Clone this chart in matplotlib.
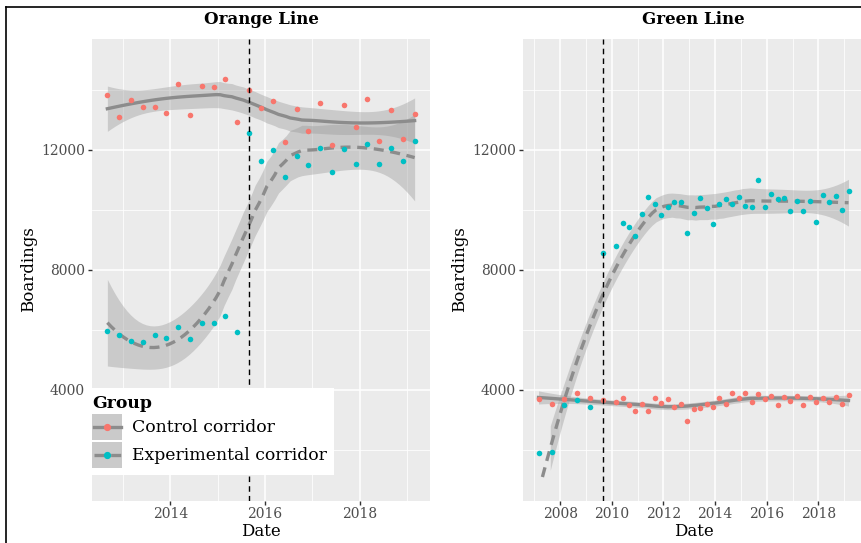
import numpy as np
import pandas as pd
import matplotlib
matplotlib.use("Agg")
import matplotlib.pyplot as plt
from matplotlib.legend_handler import HandlerBase
from matplotlib.patches import Rectangle
from matplotlib.lines import Line2D

plt.rcParams['font.family'] = ['DejaVu Serif']

# Orange Line, quarterly boardings
orange_dates = pd.date_range('2012-09-01', '2019-03-01', freq='QS-MAR')
orange_control = [13820, 13090, 13660, 13420, 13420, 13210, 14190, 13140, 14130,
                  14070, 14350, 12930, 13980, 13370, 13620, 12240, 13340, 12620,
                  13560, 12160, 13490, 12750, 13670, 12270, 13320, 12350, 13180]
orange_experimental = [5940, 5830, 5620, 5580, 5820, 5710, 6080, 5690, 6210,
                       6220, 6460, 5920, 12550, 11610, 11980, 11090, 11790, 11470,
                       12060, 11250, 12030, 11530, 12170, 11510, 12050, 11610, 12270]
orange_start = '2015-09-01'

# Green Line, semiannual then quarterly boardings
green_dates = pd.to_datetime(['2007-03-01', '2007-09-01', '2008-03-01', '2008-09-01',
                              '2009-03-01', '2009-09-01']).append(
    pd.date_range('2010-03-01', '2019-03-01', freq='QS-MAR'))
green_control = [3680, 3520, 3670, 3890, 3730, 3660, 3570, 3720, 3470, 3280, 3530,
                 3280, 3710, 3560, 3670, 3420, 3510, 2960, 3360, 3390, 3530, 3420,
                 3710, 3510, 3880, 3710, 3870, 3570, 3840, 3690, 3780, 3480, 3760,
                 3630, 3780, 3470, 3740, 3590, 3730, 3590, 3760, 3530, 3810]
green_experimental = [1870, 1930, 3470, 3650, 3410, 8560, 8770, 9550, 9410, 9130,
                      9840, 10420, 10190, 9810, 10080, 10240, 10260, 9220, 9880,
                      10370, 10060, 9530, 10190, 10350, 10190, 10430, 10130, 10080,
                      10970, 10080, 10530, 10350, 10380, 9950, 10280, 9950, 10280,
                      9570, 10480, 10260, 10460, 9970, 10610]
green_start = '2009-09-01'

groups = ['Control corridor', 'Experimental corridor']
point_colors = ['#F8766D', '#00BFC4']
line_styles = ['-', (0, (3, 2))]
y_limits = (1000, 15000)

SMOOTH = '#8c8c8c'
RIBBON = '#999999'
PANEL = '#EBEBEB'


def dec_year(d):
    d = pd.to_datetime(d)
    days = np.where(d.is_leap_year, 366.0, 365.0)
    return np.asarray(d.year + (d.dayofyear - 1) / days, dtype=float)


def t975(df):
    # Cornish-Fisher expansion of the Student t 97.5% quantile
    z = 1.959964
    g1 = (z**3 + z) / 4
    g2 = (5 * z**5 + 16 * z**3 + 3 * z) / 96
    g3 = (3 * z**7 + 19 * z**5 + 17 * z**3 - 15 * z) / 384
    return z + g1 / df + g2 / df**2 + g3 / df**3


def loess(x, y, xs, span=0.75):
    x = np.asarray(x, float)
    y = np.asarray(y, float)
    n = len(x)
    q = int(np.floor(n * span))

    def row(x0):
        d = np.abs(x - x0)
        h = np.sort(d)[q - 1]
        w = (1 - np.clip(d / h, 0, 1) ** 3) ** 3
        X = np.column_stack([np.ones(n), x - x0, (x - x0) ** 2])
        A = X.T @ (w[:, None] * X)
        return np.linalg.solve(A, (X * w[:, None]).T)[0]

    L = np.array([row(v) for v in x])
    M = np.eye(n) - L
    MM = M.T @ M
    d1, d2 = np.trace(MM), np.trace(MM @ MM)
    resid = y - L @ y
    sigma = np.sqrt(resid @ resid / d1)
    Ls = np.array([row(v) for v in xs])
    fit = Ls @ y
    se = sigma * np.sqrt((Ls ** 2).sum(axis=1))
    t = t975(d1 ** 2 / d2)
    return fit, fit - t * se, fit + t * se


def censor(v):
    # values outside the y limits are dropped, as the scale limits do
    v = np.array(v, float)
    v[(v < y_limits[0]) | (v > y_limits[1])] = np.nan
    return v


class KeyHandler(HandlerBase):
    def __init__(self, color, ls):
        super().__init__()
        self.color = color
        self.ls = ls

    def create_artists(self, legend, orig_handle, xdescent, ydescent,
                       width, height, fontsize, trans):
        x0, y0 = -xdescent, -ydescent
        bg = Rectangle((x0, y0), width, height, facecolor=PANEL, edgecolor='none',
                       transform=trans)
        rib = Rectangle((x0, y0), width, height, facecolor=RIBBON, alpha=0.4,
                        edgecolor='none', transform=trans)
        ym = y0 + height / 2
        ln = Line2D([x0 + 1, x0 + width - 1], [ym, ym], color=SMOOTH, lw=2.4,
                    linestyle=self.ls, transform=trans)
        pt = Line2D([x0 + width / 2], [ym], marker='o', markersize=4.2,
                    color=self.color, linestyle='none', transform=trans)
        return [bg, rib, ln, pt]


W, H = 862, 543
fig = plt.figure(figsize=(W / 100, H / 100), dpi=100)
fig.patch.set_facecolor('white')

top, bottom = 38.5, 500.5
ax1 = fig.add_axes([92 / W, 1 - bottom / H, (430 - 92) / W, (bottom - top) / H])
ax2 = fig.add_axes([523 / W, 1 - bottom / H, (864 - 523) / W, (bottom - top) / H])

panels = [
    (ax1, orange_dates, [orange_control, orange_experimental], orange_start,
     'Orange Line', [2014, 2016, 2018], [2013, 2015, 2017, 2019]),
    (ax2, green_dates, [green_control, green_experimental], green_start,
     'Green Line', list(range(2008, 2019, 2)), list(range(2007, 2020, 2))),
]

for ax, dates, series, start, title, majors, minors in panels:
    xd = dec_year(dates)
    xs = np.linspace(xd.min(), xd.max(), 80)
    ax.set_facecolor(PANEL)
    for vals, col, ls in zip(series, point_colors, line_styles):
        fit, lo, hi = loess(xd, vals, xs)
        fit, lo, hi = censor(fit), censor(lo), censor(hi)
        ok = ~(np.isnan(lo) | np.isnan(hi))
        ax.fill_between(xs, lo, hi, where=ok, color=RIBBON, alpha=0.4,
                        linewidth=0, zorder=2)
        ax.plot(xs, fit, color=SMOOTH, lw=2.4, linestyle=ls, zorder=3)
        ax.scatter(xd, vals, s=16, color=col, linewidths=0, zorder=4)
    ax.axvline(dec_year([start])[0], color='black', lw=1.0,
               linestyle=(0, (4, 3)), zorder=5)

    r = xd.max() - xd.min()
    ax.set_xlim(xd.min() - 0.05 * r, xd.max() + 0.05 * r)
    pad = 0.05 * (y_limits[1] - y_limits[0])
    ax.set_ylim(y_limits[0] - pad, y_limits[1] + pad)
    ax.set_xticks(majors)
    ax.set_xticks(minors, minor=True)
    ax.set_yticks([4000, 8000, 12000])
    ax.set_yticks([2000, 6000, 10000, 14000], minor=True)
    ax.grid(True, which='major', color='white', lw=1.1, zorder=0)
    ax.grid(True, which='minor', color='white', lw=0.55, zorder=0)
    ax.set_axisbelow(True)
    for s in ax.spines.values():
        s.set_visible(False)
    ax.tick_params(which='major', length=3, width=1.0, color='#333333',
                   labelcolor='#4D4D4D', labelsize=10, pad=2)
    ax.tick_params(which='minor', length=0)
    ax.set_xlabel('Date', fontsize=12, labelpad=1)
    ax.set_ylabel('Boardings', fontsize=12, labelpad=3)
    cx = ax.get_position().x0 + ax.get_position().width / 2
    fig.text(cx, 1 - 20 / H, title, ha='center', va='center',
             fontsize=12, fontweight='bold')

# legend sits over the lower left of the first panel
handles = [Line2D([], []), Line2D([], [])]
hmap = {h: KeyHandler(c, ls) for h, c, ls in zip(handles, point_colors, line_styles)}
leg = ax1.legend(handles, groups, handler_map=hmap, title='Group',
                 loc='upper left', bbox_to_anchor=(85 / W, 1 - 388 / H),
                 bbox_transform=fig.transFigure, frameon=True, fancybox=False,
                 fontsize=12.4, title_fontproperties={'weight': 'bold', 'size': 12.4},
                 handlelength=1.75, handleheight=1.95, handletextpad=0.55,
                 labelspacing=0.1, borderpad=0.42, borderaxespad=0,
                 alignment='left')
leg.get_frame().set_facecolor('white')
leg.get_frame().set_edgecolor('none')
leg.get_frame().set_alpha(1)
leg.set_zorder(10)

# thin black frame along the top and left edges
fig.add_artist(Line2D([6 / W, 1], [1 - 7 / H, 1 - 7 / H], color='black', lw=1.2))
fig.add_artist(Line2D([6 / W, 6 / W], [0, 1 - 7 / H], color='black', lw=1.2))

fig.savefig('out.png', dpi=100)
